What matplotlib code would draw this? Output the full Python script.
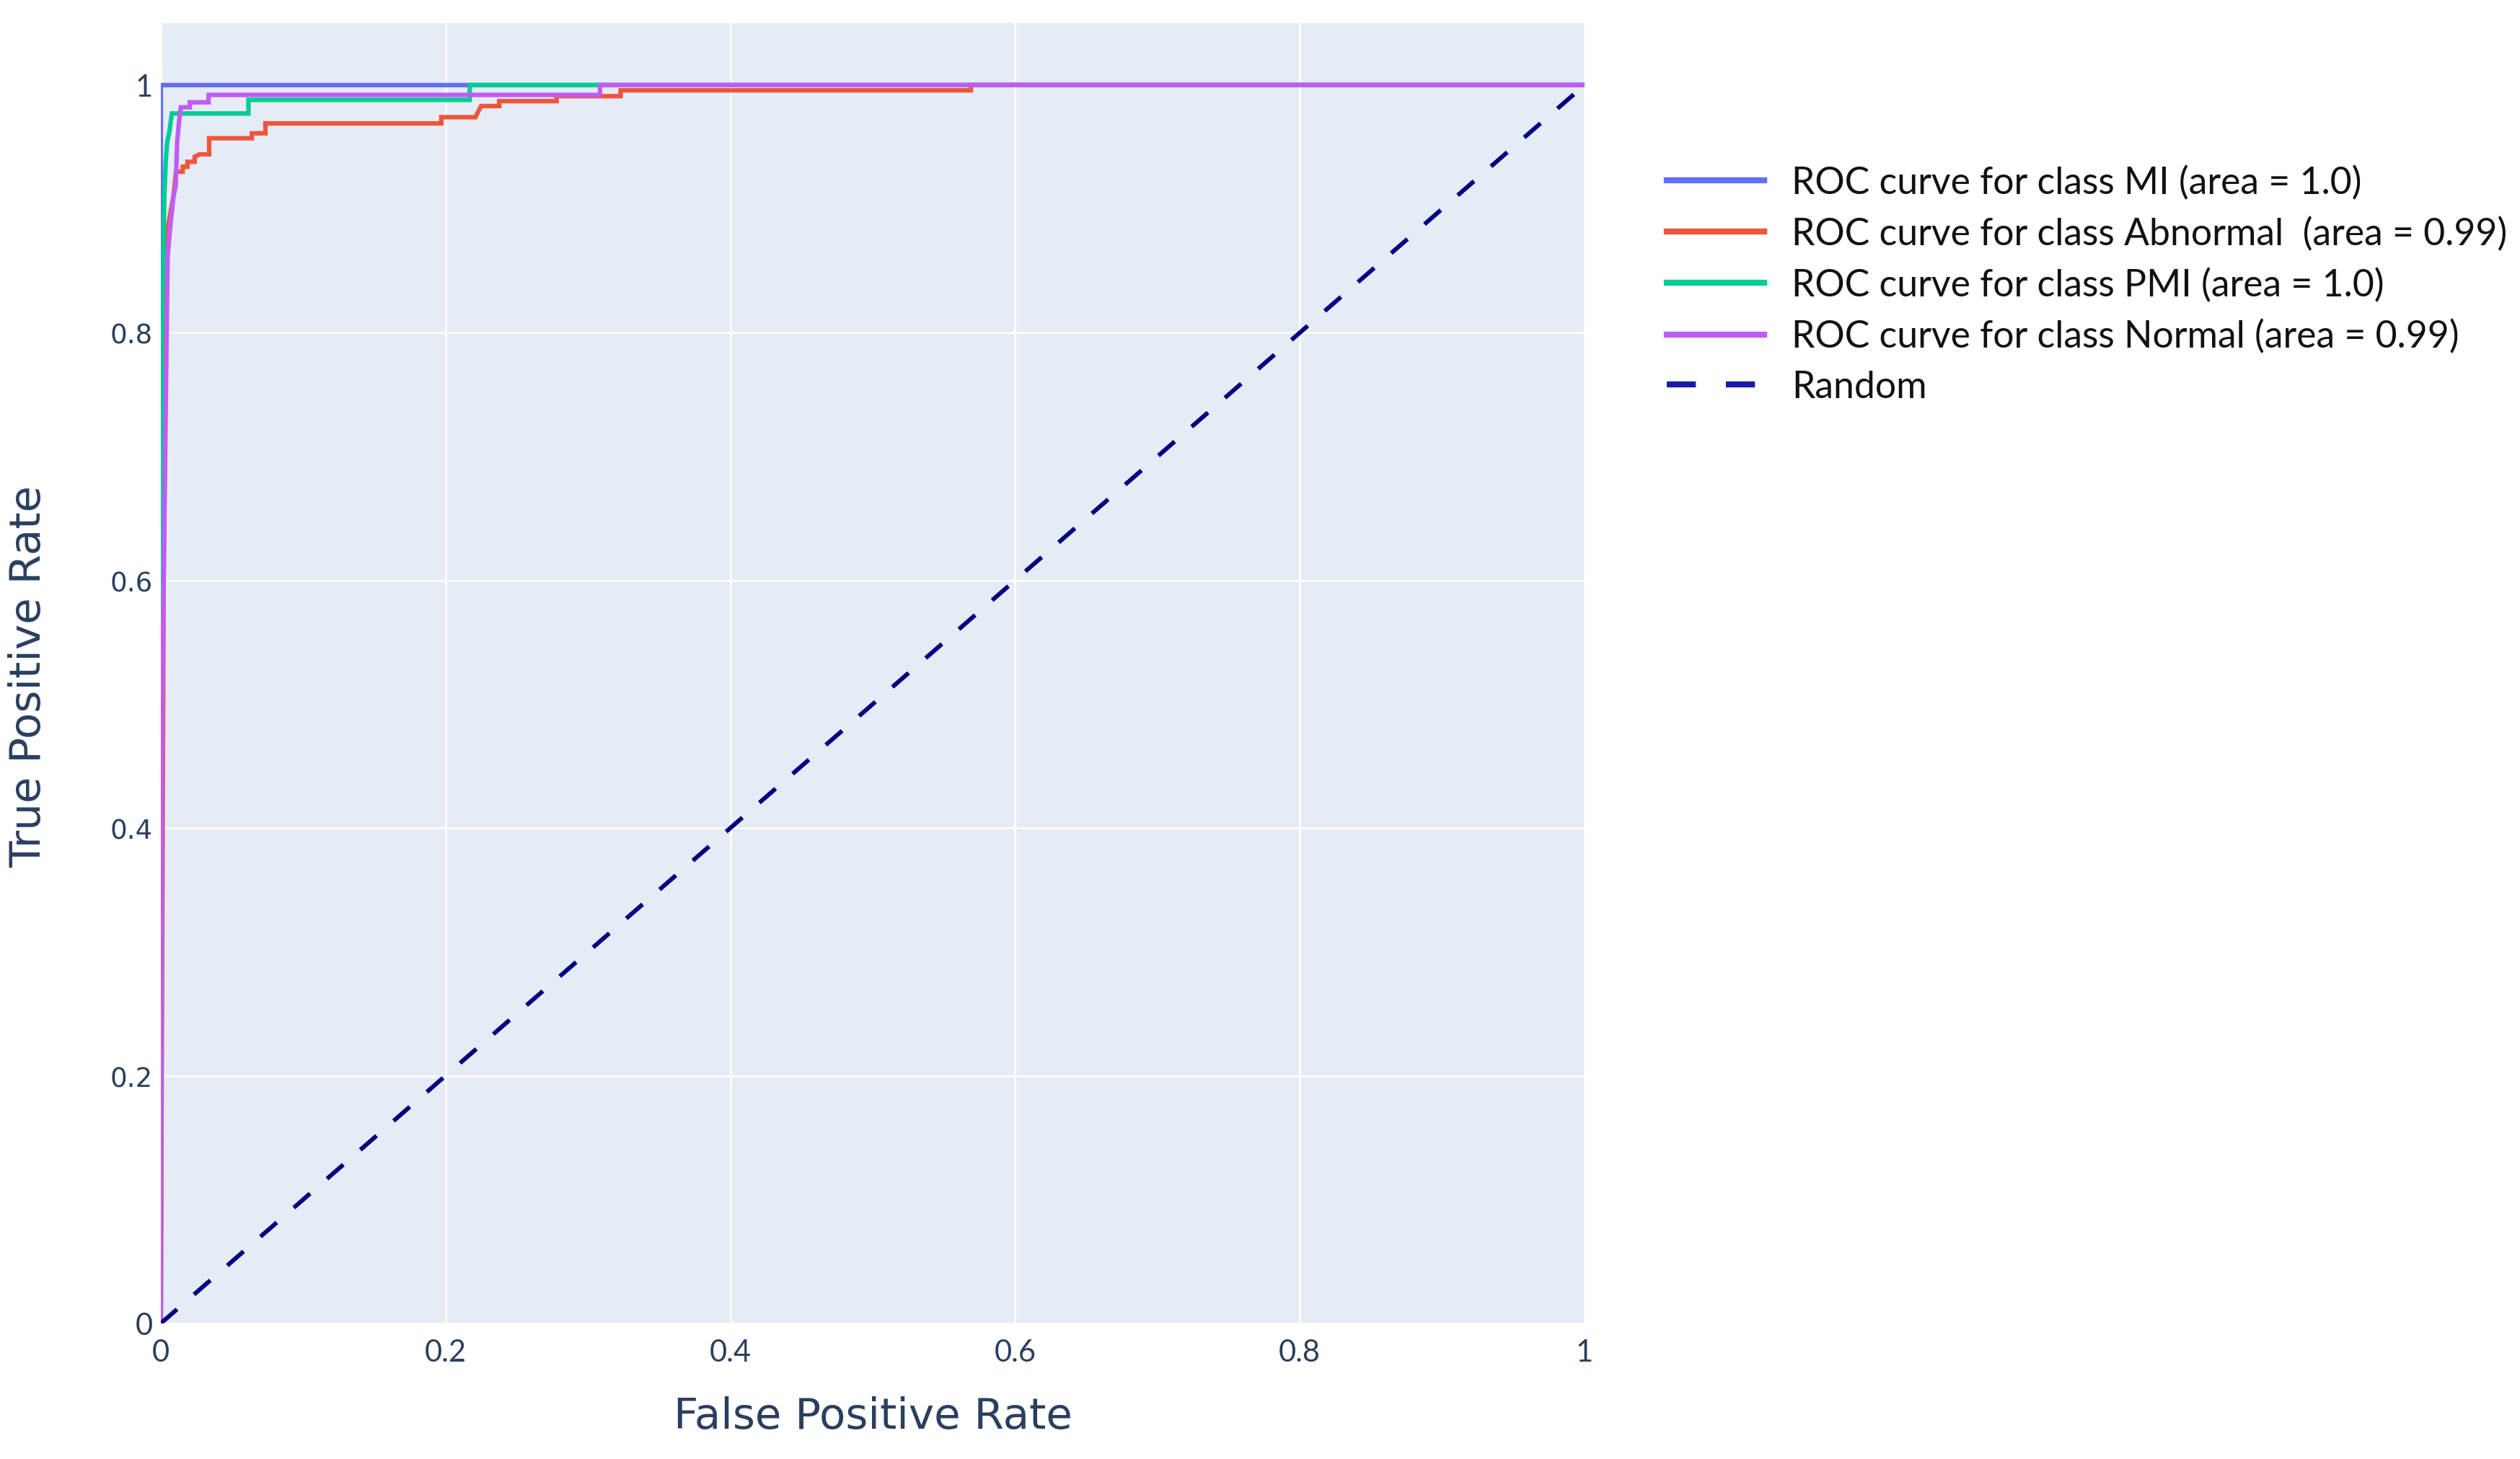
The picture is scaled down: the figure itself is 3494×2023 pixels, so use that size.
import matplotlib
matplotlib.use("Agg")
import matplotlib.pyplot as plt
from matplotlib.lines import Line2D

# ROC points (false positive rate, true positive rate)
fpr_mi = [0.0, 0.0, 1.0]
tpr_mi = [0.0, 1.0, 1.0]

fpr_abnormal = [0.0, 0.002, 0.004, 0.0048, 0.009, 0.0107, 0.012, 0.0154, 0.0154, 0.0187, 0.0187,
                0.0238, 0.0238, 0.0272, 0.034, 0.034, 0.064, 0.064, 0.0735, 0.0735, 0.197, 0.197,
                0.221, 0.225, 0.2377, 0.2377, 0.278, 0.278, 0.323, 0.323, 0.569, 0.569, 1.0]
tpr_abnormal = [0.0, 0.60, 0.86, 0.884, 0.911, 0.930, 0.930, 0.930, 0.934, 0.934, 0.938,
                0.938, 0.942, 0.944, 0.944, 0.957, 0.957, 0.961, 0.961, 0.969, 0.969, 0.974,
                0.974, 0.983, 0.983, 0.987, 0.987, 0.991, 0.991, 0.9957, 0.9957, 1.0, 1.0]

fpr_pmi = [0.0, 0.0005, 0.0025, 0.0035, 0.0045, 0.006, 0.0078, 0.0616, 0.0616, 0.217, 0.217, 0.306, 1.0]
tpr_pmi = [0.0, 0.78, 0.911, 0.938, 0.954, 0.962, 0.977, 0.977, 0.988, 0.988, 1.0, 1.0, 1.0]

fpr_normal = [0.0, 0.001, 0.0039, 0.0048, 0.0065, 0.009, 0.0105, 0.0115, 0.0129, 0.0141, 0.0204,
              0.0204, 0.0336, 0.0336, 0.3085, 0.3085, 1.0]
tpr_normal = [0.0, 0.50, 0.779, 0.861, 0.884, 0.911, 0.918, 0.954, 0.971, 0.982, 0.982,
              0.986, 0.986, 0.992, 0.992, 1.0, 1.0]

fpr_random = [0.0, 1.0]
tpr_random = [0.0, 1.0]

labels = [
    "ROC curve for class MI (area = 1.0)",
    "ROC curve for class Abnormal  (area = 0.99)",
    "ROC curve for class PMI (area = 1.0)",
    "ROC curve for class Normal (area = 0.99)",
    "Random",
]
colors = ["#636efa", "#ef553b", "#00cc96", "#c05cf5", "#000080"]

x_ticks = [0, 0.2, 0.4, 0.6, 0.8, 1]
x_tick_labels = ["0", "0.2", "0.4", "0.6", "0.8", "1"]
y_ticks = [0, 0.2, 0.4, 0.6, 0.8, 1]
y_tick_labels = ["0", "0.2", "0.4", "0.6", "0.8", "1"]

plt.rcParams["lines.scale_dashes"] = False
title_color = "#2a3f5f"

fig = plt.figure(figsize=(34.94, 20.24), dpi=100)
ax = fig.add_axes([0.0638, 0.0929, 0.565, 0.8908])
ax.set_facecolor("#e5ecf6")
for s in ax.spines.values():
    s.set_visible(False)

curves = [(fpr_mi, tpr_mi), (fpr_abnormal, tpr_abnormal), (fpr_pmi, tpr_pmi), (fpr_normal, tpr_normal)]
for (fx, ty), c in zip(curves, colors[:4]):
    ax.plot(fx, ty, color=c, lw=4.5, solid_joinstyle="miter", zorder=3)
ax.plot(fpr_random, tpr_random, color=colors[4], lw=4.3, dashes=(21.5, 22.5), zorder=3)

ax.set_xlim(0, 1)
ax.set_ylim(0, 1.05)
ax.set_xticks(x_ticks)
ax.set_xticklabels(x_tick_labels)
ax.set_yticks(y_ticks)
ax.set_yticklabels(y_tick_labels)
ax.grid(True, color="white", lw=1.8, zorder=0)
ax.set_axisbelow(True)
ax.tick_params(length=0, colors=title_color)
ax.tick_params(axis="x", pad=15)
ax.tick_params(axis="y", pad=8)
for t in ax.get_xticklabels():
    t.set_fontfamily("Lato")
    t.set_fontsize(30)
for t in ax.get_yticklabels():
    if t.get_text() in ("0", "1"):
        t.set_fontfamily("Lato")
        t.set_fontsize(30)
    else:
        t.set_fontfamily("DejaVu Sans")
        t.set_fontsize(26.7)

ax.set_xlabel("False Positive Rate", fontsize=42.8, color=title_color, va="center")
ax.xaxis.set_label_coords(0.5, -0.0715)
ax.set_ylabel("True Positive Rate", fontsize=42.8, color=title_color, va="center")
ax.yaxis.set_label_coords(-0.093, 0.498)

handles = [Line2D([], [], color=c, lw=6) for c in colors[:4]]
handles.append(Line2D([], [], color="#1a1aa8", lw=6, dashes=(29, 30)))
fig.legend(handles, labels, loc="upper left", bbox_to_anchor=(0.6614, 0.8865),
           frameon=False, borderpad=0, borderaxespad=0, handlelength=2.6,
           handletextpad=0.74, labelspacing=0.44,
           prop={"family": "Lato", "size": 37.3}, labelcolor="#111111")

fig.savefig("out.png", dpi=100)
